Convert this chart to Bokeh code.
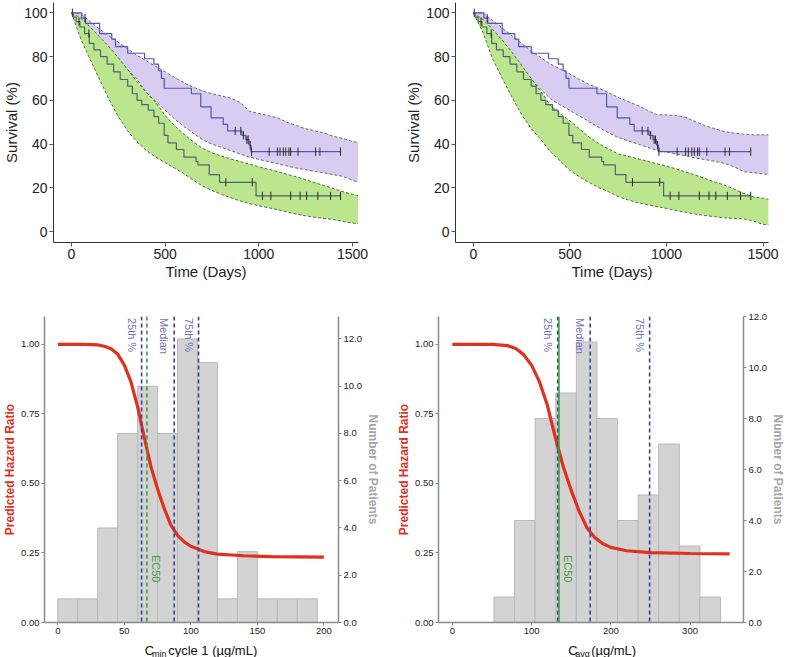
import numpy as np
from math import pi
from bokeh.plotting import figure
from bokeh.models import Range1d, LinearAxis, FixedTicker, NumeralTickFormatter, Span
from bokeh.layouts import column, row
from bokeh.embed import file_html
from bokeh.resources import INLINE
from bokeh.core.properties import value

FONT = "Liberation Sans"

# ---------------- Kaplan-Meier (observed) ----------------
km_hi_t = [0, 55, 75, 150, 215, 235, 300, 390, 440, 465, 480, 495, 640, 690, 745, 810, 833, 910, 930, 948, 958]
km_hi_s = [100, 97.6, 95.2, 90.5, 88.0, 84.5, 81.5, 79.0, 76.5, 73.5, 70.0, 65.5, 63.0, 57.0, 52.0, 49.0, 46.0, 44.0, 42.0, 39.5, 36.5]
km_lo_t = [0, 10, 25, 45, 70, 95, 120, 155, 190, 225, 260, 300, 325, 350, 375, 410, 440, 465, 495, 515, 560, 600, 665, 675, 735, 790, 985]
km_lo_s = [100, 98, 96, 93.5, 90.5, 86, 83, 80, 76.5, 73, 69.5, 66.5, 63, 60, 58, 55.5, 52.5, 49.5, 44, 40.5, 37.5, 34, 32, 30.5, 26, 22.5, 16.3]
km_last_day = 1438
cens_hi = [5, 72, 874, 904, 918, 936, 943, 954, 961, 1055, 1099, 1113, 1131, 1144, 1161, 1170, 1209, 1303, 1326, 1436]
cens_lo = [40, 93, 824, 965, 1019, 1064, 1170, 1220, 1255, 1315, 1383, 1436]

# ---------------- prediction bands ----------------
band_days = [0, 50, 100, 150, 200, 250, 300, 350, 400, 450, 500, 550, 600, 650, 700, 750, 800, 850,
             900, 950, 1000, 1050, 1100, 1150, 1200, 1250, 1300, 1350, 1400, 1450, 1500, 1530]
# left panel (Cmin)
tl_hi_up = [100, 99.5, 96, 92.5, 89.5, 86.5, 83.5, 80.5, 78, 75.5, 73, 70.5, 68, 66, 64.2, 63, 62, 61,
            59, 55, 54, 53, 52, 50, 48.5, 47, 46, 45, 43.5, 42.5, 41.2, 40.7]
tl_hi_lo = [100, 96.5, 92, 87.5, 83, 78.5, 74, 69.5, 63.5, 59.5, 55.5, 51.5, 48, 45, 42, 40, 38.5, 37,
            35.5, 34, 33, 32, 31, 30, 29, 28.3, 27.5, 26.8, 26, 25.2, 23.5, 22.6]
tl_lo_up = [100, 97.5, 93.5, 89, 84.5, 79.5, 74, 68.5, 63.5, 59, 53, 48.5, 44.5, 41, 38, 36, 34.5, 33.2,
            32, 30.8, 29.6, 28.5, 27.4, 26.2, 25, 23.7, 22.3, 21, 19.6, 18.2, 17, 16.4]
tl_lo_lo = [100, 88, 78.5, 69.5, 60.5, 52.5, 46, 41, 37, 34, 31.5, 29, 26.5, 23.5, 20.8, 18.8, 17, 15.5,
            14, 12.8, 11.8, 10.9, 10, 9, 8, 7.2, 6.5, 6, 5.5, 4.6, 3.9, 3.6]
# right panel (Cavg)
tr_hi_up = [100, 100, 96.5, 93, 89.5, 86, 82.5, 79.5, 76.5, 74.3, 72, 69.5, 67.2, 65.5, 63.5, 61.3, 59.5, 57.7,
            55.5, 53.4, 53.3, 53.1, 52.2, 50.2, 48.4, 47, 45.7, 45, 44.5, 44.2, 44.2, 44.2]
tr_hi_lo = [100, 96, 90.5, 85, 79.5, 74.5, 69.5, 65, 60.6, 57.9, 55.4, 52.8, 50.2, 47.6, 45.2, 43, 41.5, 40.1,
            38.6, 37.2, 36.3, 35.5, 34.6, 33.6, 32.9, 32.1, 31.2, 29.6, 27.4, 26.9, 26.4, 26.1]
tr_lo_up = [100, 97, 92.5, 87.5, 82, 76, 70, 64, 57.6, 54, 50.6, 46.8, 43.2, 40.2, 37.7, 35.5, 34.4, 33.3,
            32.2, 31, 29.9, 28.6, 27.2, 25.8, 24.2, 22.7, 21.2, 19.4, 17.4, 15.9, 15.2, 14.7]
tr_lo_lo = [100, 91, 79, 70, 61.5, 53.5, 47, 42, 36.5, 32.3, 28, 25, 22.4, 20.1, 18.2, 16, 14.5, 13.2,
            12.3, 11.5, 10.5, 9.6, 8.8, 8, 7.3, 6.8, 6.3, 6, 5.8, 4.8, 3.3, 2.9]

surv_ticks = [0, 20, 40, 60, 80, 100]
day_ticks = [0, 500, 1000, 1500]

# ---------------- exposure-response panels ----------------
cmin_edges = [0, 15, 30, 45, 60, 75, 90, 105, 120, 135, 150, 165, 180, 195]
cmin_counts = [1, 1, 4, 8, 10, 8, 12, 11, 1, 3, 1, 1, 1]
cmin_x = [0, 20, 30, 35, 40, 45, 50, 55, 60, 65, 70, 75, 80, 85, 90, 95, 100, 110, 120, 140, 160, 200]
cmin_hr = [1.0, 1.0, 0.998, 0.993, 0.984, 0.965, 0.925, 0.865, 0.775, 0.665, 0.56, 0.48, 0.41, 0.35, 0.313,
           0.29, 0.274, 0.255, 0.246, 0.240, 0.237, 0.235]
cmin_pct = [63, 87.5, 105.8]
cmin_ec50 = 67
cmin_ticks = [0, 50, 100, 150, 200]

cavg_edges = [52.5, 78.5, 104.5, 130.5, 156.5, 182.5, 208.5, 234.5, 260.5, 286.5, 312.5, 338.5]
cavg_counts = [1, 4, 8, 9, 11, 8, 4, 5, 7, 3, 1]
cavg_x = [0, 50, 70, 80, 90, 100, 110, 120, 130, 140, 150, 160, 170, 180, 190, 200, 220, 250, 300, 350]
cavg_hr = [1.0, 1.0, 0.995, 0.985, 0.963, 0.925, 0.865, 0.78, 0.665, 0.56, 0.475, 0.40, 0.34, 0.305, 0.283,
           0.27, 0.258, 0.251, 0.248, 0.247]
cavg_pct = [133, 174, 249]
cavg_ec50 = 134.5
cavg_ticks = [0, 100, 200, 300]

pct_names = ["25th %", "Median", "75th %"]
hr_ticks = [0, 0.25, 0.5, 0.75, 1.0]
n_ticks = [0, 2, 4, 6, 8, 10, 12]

PURPLE_FILL = "#d8ccf1"
GREEN_FILL = "#bce68d"
PURPLE_LINE = "#5555b3"
GREEN_LINE = "#4d6470"
RED = "#e0301e"
BLUE_DASH = "#3c3ca8"
PCT_TEXT = "#7474c4"
EC_GREEN = "#3a9e3a"

# approximate advance widths (em) of Liberation Sans, for composing the subscripted titles
ADV = {'C': .722, 'm': .833, 'i': .222, 'n': .556, ' ': .278, 'c': .5, 'y': .5, 'l': .222, 'e': .556,
       '1': .556, '(': .333, 'µ': .576, 'g': .556, '/': .278, 'L': .556, ')': .333, 'a': .556, 'v': .5}


def tw(s, size):
    return sum(ADV.get(ch, .55) for ch in s) * size


def style_axis(ax, size, color="#222222", line="#333333", tick="#555555"):
    ax.major_label_text_font = FONT
    ax.major_label_text_font_size = size
    ax.major_label_text_color = color
    ax.axis_line_color = line
    ax.major_tick_line_color = tick
    ax.minor_tick_line_color = None


def km_panel(width, xr, bl, br, hi_up, hi_lo, lo_up, lo_lo):
    p = figure(width=width, height=283, x_range=Range1d(*xr), y_range=Range1d(-5, 104.7),
               output_backend="svg", toolbar_location=None,
               min_border_left=bl, min_border_right=br, min_border_top=2, min_border_bottom=41)
    p.outline_line_color = None
    p.grid.visible = False
    d = np.array(band_days)
    p.varea(x=d, y1=hi_lo, y2=hi_up, fill_color=PURPLE_FILL)
    p.line(d, hi_up, line_color="#6a6a6a", line_dash="3 2", line_width=1)
    p.line(d, hi_lo, line_color="#6a6a6a", line_dash="3 2", line_width=1)
    p.varea(x=d, y1=lo_lo, y2=lo_up, fill_color=GREEN_FILL)
    p.line(d, lo_up, line_color="#4f6f3c", line_dash="3 2", line_width=1)
    p.line(d, lo_lo, line_color="#4f6f3c", line_dash="3 2", line_width=1)
    for t, s, c, cens in ((km_hi_t, km_hi_s, PURPLE_LINE, cens_hi), (km_lo_t, km_lo_s, GREEN_LINE, cens_lo)):
        tt = list(t) + [km_last_day]
        ss = list(s) + [s[-1]]
        p.step(tt, ss, mode="after", line_color=c, line_width=1.2)
        idx = np.searchsorted(np.array(t), np.array(cens), side="right") - 1
        sv = np.array(s)[idx]
        p.segment(x0=cens, y0=sv - 1.9, x1=cens, y1=sv + 1.9, line_color="#2a2a2a", line_width=1)
    p.xaxis.ticker = FixedTicker(ticks=day_ticks)
    p.yaxis.ticker = FixedTicker(ticks=surv_ticks)
    for ax in (p.xaxis[0], p.yaxis[0]):
        style_axis(ax, "14px")
        ax.major_tick_out = 4
        ax.major_tick_in = 0
        ax.major_label_standoff = 2
        ax.axis_label_text_font = FONT
        ax.axis_label_text_font_size = "15px"
        ax.axis_label_text_font_style = "normal"
        ax.axis_label_text_color = "#222222"
        ax.axis_label_standoff = 1
    p.xaxis.axis_label = "Time (Days)"
    p.yaxis.axis_label = "Survival (%)"
    return p


def hr_panel(width, xr, rmax, bl, br, edges, counts, cx, cy, pct, ec50, ec_dash, xticks):
    p = figure(width=width, height=354, x_range=Range1d(*xr), y_range=Range1d(0, 1.1),
               output_backend="svg", toolbar_location=None,
               min_border_left=bl, min_border_right=br, min_border_top=33, min_border_bottom=15)
    p.outline_line_color = None
    p.grid.visible = False
    p.extra_y_ranges = {"n": Range1d(0, rmax)}
    e = np.array(edges, dtype=float)
    p.quad(left=e[:-1], right=e[1:], top=counts, bottom=0, y_range_name="n",
           fill_color="#d3d3d3", line_color="#b9b9b9", line_width=1)
    for xv in pct:
        p.add_layout(Span(location=xv, dimension="height", line_color=BLUE_DASH,
                          line_dash="4 3", line_width=1.6))
    p.add_layout(Span(location=ec50, dimension="height", line_color=EC_GREEN,
                      line_dash=ec_dash, line_width=1.6))
    p.line(cx, cy, line_color=RED, line_width=3.2)
    p.text(x=pct, y=[1.095] * len(pct), text=pct_names, angle=-pi / 2,
           text_font=value(FONT), text_font_size="11px", text_color=PCT_TEXT,
           text_align="left", text_baseline="top", x_offset=-4)
    p.text(x=[ec50], y=[0.243], text=["EC50"], angle=-pi / 2,
           text_font=value(FONT), text_font_size="11px", text_color=EC_GREEN,
           text_align="left", text_baseline="bottom", x_offset=3)
    p.xaxis.ticker = FixedTicker(ticks=xticks)
    p.yaxis.ticker = FixedTicker(ticks=hr_ticks)
    p.yaxis.formatter = NumeralTickFormatter(format="0.00")
    ra = LinearAxis(y_range_name="n", ticker=FixedTicker(ticks=n_ticks),
                    formatter=NumeralTickFormatter(format="0.0"))
    p.add_layout(ra, "right")
    for ax in (p.xaxis[0], p.yaxis[0], ra):
        style_axis(ax, "9.5px", color="#222222", line="#8a8a8a", tick="#8a8a8a")
        ax.axis_line_width = 1.5
        ax.major_tick_out = 3
        ax.major_tick_in = 0
        ax.major_label_standoff = 2
        ax.axis_label_text_font = FONT
        ax.axis_label_text_font_size = "12px"
        ax.axis_label_text_font_style = "bold"
        ax.axis_label_standoff = 1
    p.yaxis[0].axis_label = "Predicted Hazard Ratio"
    p.yaxis[0].axis_label_text_color = RED
    ra.axis_label = "Number of Patients"
    ra.axis_label_text_color = "#a6a6a6"
    return p


def title_strip(width, cx, main, sub, rest):
    """x-axis title with a subscript, drawn as text below its panel."""
    big, small = 13, 9
    rest_txt = rest.strip(" ")
    w_main, w_sub = tw(main, big), tw(sub, small) + 1.5
    w_gap, w_rest = 5.0, tw(rest_txt, big)
    x0 = cx - (w_main + w_sub + w_gap + w_rest) / 2
    s = figure(width=width, height=20, x_range=Range1d(0, width), y_range=Range1d(0, 20),
               output_backend="svg", toolbar_location=None, min_border=0,
               x_axis_location=None, y_axis_location=None)
    s.outline_line_color = None
    s.grid.visible = False
    s.text(x=[x0, x0 + w_main + w_sub + w_gap], y=[7, 7], text=[main, rest_txt],
           text_font=value(FONT), text_font_size=f"{big}px", text_color="#111111",
           text_align="left", text_baseline="alphabetic")
    s.text(x=[x0 + w_main], y=[4], text=[sub],
           text_font=value(FONT), text_font_size=f"{small}px", text_color="#111111",
           text_align="left", text_baseline="alphabetic")
    return s


tl = km_panel(392, (-96, 1532), 44, 34, tl_hi_up, tl_hi_lo, tl_lo_up, tl_lo_lo)
tr = km_panel(387, (-92, 1528), 63, 11, tr_hi_up, tr_hi_lo, tr_lo_up, tr_lo_lo)
bl = hr_panel(382, (-10, 211), 12.95, 27, 40, cmin_edges, cmin_counts, cmin_x, cmin_hr,
              cmin_pct, cmin_ec50, "4 3", cmin_ticks)
br = hr_panel(405, (-17.5, 367.5), 12, 56, 41, cavg_edges, cavg_counts, cavg_x, cavg_hr,
              cavg_pct, cavg_ec50, "solid", cavg_ticks)
bl_t = title_strip(382, 190, "C", "min", " cycle 1 (µg/mL)")
br_t = title_strip(405, 592 - 382, "C", "avg", " (µg/mL)")

layout = column(row(tl, tr), row(column(bl, bl_t), column(br, br_t)))
open("out.html", "w").write(file_html(layout, INLINE))
